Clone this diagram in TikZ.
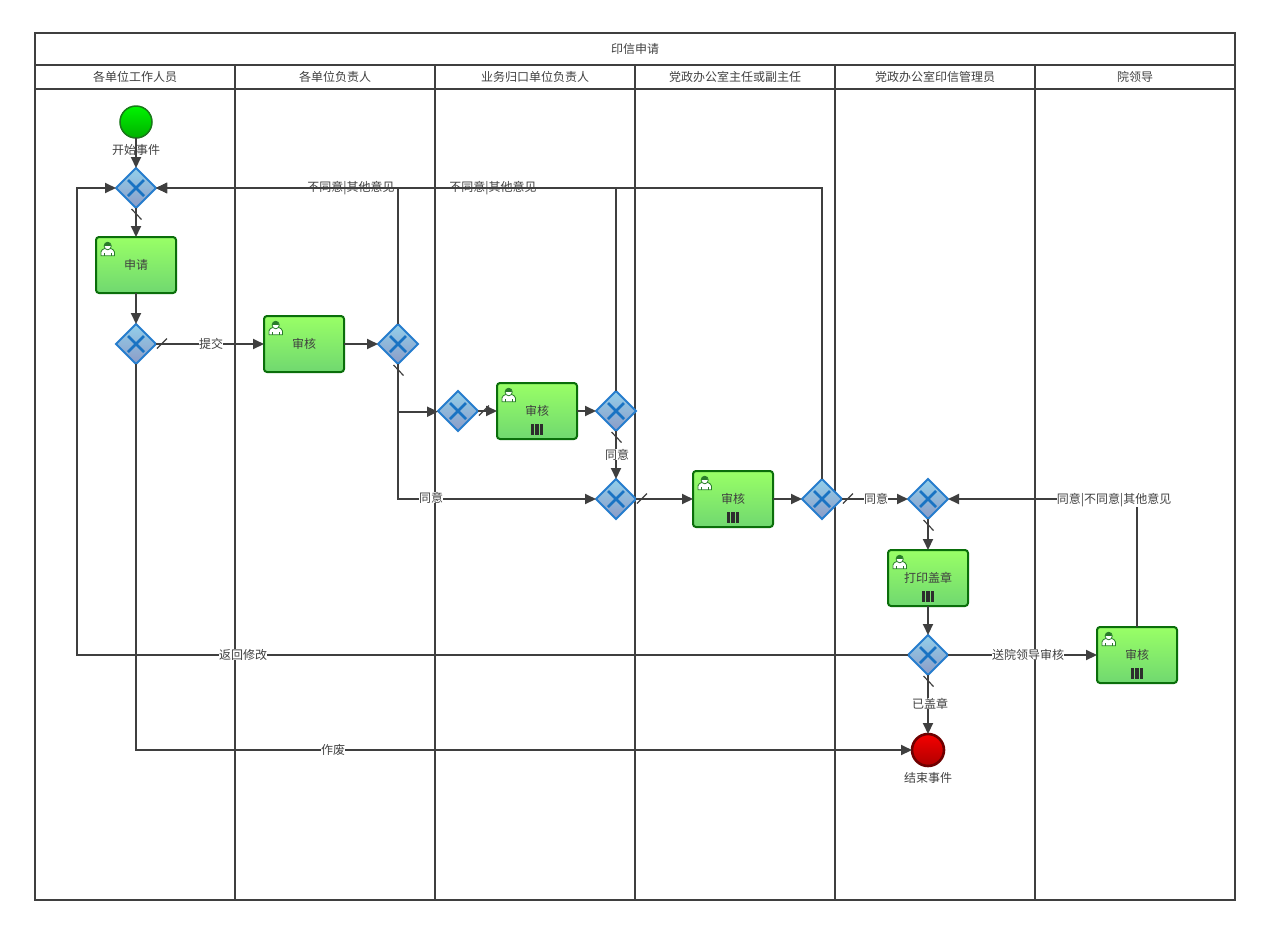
\documentclass[tikz,border=0pt]{standalone}
\usepackage{fontspec}
\setmainfont{Noto Sans CJK SC}
\usetikzlibrary{arrows.meta,shapes.geometric,calc}
\definecolor{ln}{HTML}{3F3F3F}
\definecolor{txt}{HTML}{404040}
\definecolor{gateb}{RGB}{38,125,205}
\definecolor{gatet}{RGB}{147,208,235}
\definecolor{gatel}{RGB}{140,155,198}
\definecolor{gatex}{RGB}{25,115,195}
\definecolor{taskb}{RGB}{10,110,10}
\definecolor{taskt}{RGB}{153,255,102}
\definecolor{taskl}{RGB}{112,216,112}
\definecolor{startb}{RGB}{25,120,25}
\definecolor{startt}{RGB}{0,245,0}
\definecolor{startl}{RGB}{0,175,0}
\definecolor{endb}{RGB}{110,0,0}
\definecolor{endt}{RGB}{245,0,0}
\definecolor{endl}{RGB}{175,0,0}
\definecolor{userc}{RGB}{40,125,40}
\definecolor{barc}{RGB}{45,45,45}
\tikzset{
  x=1pt,y=-1pt,
  every node/.style={inner sep=0pt,outer sep=0pt,font=\fontsize{12}{14}\selectfont,text=txt},
  pool/.style={draw=ln,line width=2pt},
  flow/.style={draw=ln,line width=2pt,-{Triangle[length=11pt,width=10pt]}},
  tick/.style={draw=ln,line width=1.2pt},
  gate/.style={diamond,minimum width=40pt,minimum height=40pt,aspect=1,draw=gateb,line width=2pt,
    top color=gatet,bottom color=gatel},
  xmark/.style={draw=gatex,line width=2.6pt},
  task/.style={rectangle,rounded corners=3pt,minimum width=80pt,minimum height=56pt,draw=taskb,line width=2pt,
    top color=taskt,bottom color=taskl},
  startev/.style={circle,minimum size=32pt,draw=startb,line width=1.5pt,
    top color=startt,bottom color=startl},
  endev/.style={circle,minimum size=32pt,draw=endb,line width=2.6pt,
    top color=endt,bottom color=endl},
  lbl/.style={fill=white,inner xsep=0pt,inner ysep=0pt},
  bar/.style={fill=barc,draw=none},
}
\newcommand{\usericon}[1]{%
  \begin{scope}[shift={($(#1.north west)+(11.7,12)$)}]
    \fill[white,draw=userc,line width=.8pt]
      (-6.8,6.8) -- (-6.8,3) .. controls (-6.8,0.8) and (-4.5,0.4) .. (-2.8,-0.6) -- (2.8,-0.6) .. controls (4.5,0.4) and (6.8,0.8) .. (6.8,3) -- (6.8,6.8) -- cycle;
    \fill[white,draw=userc,line width=.8pt] (0,-3) ellipse[x radius=3.6,y radius=3.8];
    \fill[userc] (-3.6,-3.4) .. controls (-3.6,-8) and (3.6,-8) .. (3.6,-3.4) -- cycle;
    \draw[userc,line width=.6pt] (-3.8,6.8) -- (-3.8,3.5) (3.8,6.8) -- (3.8,3.5);
  \end{scope}}
\newcommand{\bars}[1]{%
  \fill[bar] ($(#1.south)+(-6.3,-15)$) rectangle ++(3.4,11);
  \fill[bar] ($(#1.south)+(-1.7,-15)$) rectangle ++(3.4,11);
  \fill[bar] ($(#1.south)+(2.9,-15)$) rectangle ++(3.4,11);}
\newcommand{\gateX}[1]{%
  \draw[xmark] ($(#1)+(-8,-8)$) -- ($(#1)+(8,8)$);
  \draw[xmark] ($(#1)+(-8,8)$) -- ($(#1)+(8,-8)$);}
\begin{document}
\begin{tikzpicture}
\useasboundingbox (0,0) rectangle (1267,930);
% pool
\draw[pool] (35,33) rectangle (1235,900);
\draw[pool] (35,65) -- (1235,65);
\draw[pool] (35,89) -- (1235,89);
\foreach \xx in {235,435,635,835,1035}{\draw[pool] (\xx,65) -- (\xx,900);}
\node (title) at (635,49) {印信申请};
\node (l1) at (135,76.5) {各单位工作人员};
\node (l2) at (335,76.5) {各单位负责人};
\node (l3) at (535,76.5) {业务归口单位负责人};
\node (l4) at (735,76.5) {党政办公室主任或副主任};
\node (l5) at (935,76.5) {党政办公室印信管理员};
\node (l6) at (1135,76.5) {院领导};
% text under the flows
\node (ls) at (136,150) {开始事件};
\node (le) at (928,778) {结束事件};
\node (ln1) at (351,188.5) {不同意|其他意见};
\node (ln2) at (493,188.5) {不同意|其他意见};
% elements
\node[startev] (start) at (136,122) {};
\node[endev] (end) at (928,750) {};
\node[gate] (g1) at (136,188) {};
\node[gate] (g2) at (136,344) {};
\node[gate] (g3) at (398,344) {};
\node[gate] (g4) at (458,411) {};
\node[gate] (g5) at (616,411) {};
\node[gate] (g6) at (616,499) {};
\node[gate] (g7) at (822,499) {};
\node[gate] (g8) at (928,499) {};
\node[gate] (g9) at (928,655) {};
\foreach \gg in {g1,g2,g3,g4,g5,g6,g7,g8,g9}{\gateX{\gg}}
\node[task] (t1) at (136,265) {申请};
\node[task] (t2) at (304,344) {审核};
\node[task] (t3) at (537,411) {审核};
\node[task] (t4) at (733,499) {审核};
\node[task] (t5) at (928,578) {打印盖章};
\node[task] (t6) at (1137,655) {审核};
\foreach \tt in {t1,t2,t3,t4,t5,t6}{\usericon{\tt}}
\foreach \tt in {t3,t4,t5,t6}{\bars{\tt}}
% connectors
\draw[flow] (start) -- (g1);
\draw[flow] (g1) -- (t1);
\draw[flow] (t1) -- (g2);
\draw[flow] (g2) -- (t2);
\draw[flow] (t2) -- (g3);
\draw[flow] (g3.north) |- (g1.east);
\draw[flow] (g5.north) |- (g1.east);
\draw[flow] (g7.north) |- (g1.east);
\draw[flow] (g3.south) |- ($(g4.west)+(0,0.7)$);
\draw[flow] (g3.south) |- (g6.west);
\draw[flow] (g4) -- (t3);
\draw[flow] (t3) -- (g5);
\draw[flow] (g5) -- (g6);
\draw[flow] (g6) -- (t4);
\draw[flow] (t4) -- (g7);
\draw[flow] (g7) -- (g8);
\draw[flow] (g8) -- (t5);
\draw[flow] (t5) -- (g9);
\draw[flow] (g9) -- (t6);
\draw[flow] (g9) -- (end);
\draw[flow] (t6.north) |- (g8.east);
\coordinate (backl) at (77,655);
\draw[flow] (g9.west) -- (backl) |- (g1.west);
\draw[flow] (g2.south) |- (end.west);
% default-flow ticks
\draw[tick] ($(g1.south)+(-4.5,1)$) -- ++(10,10.5);
\draw[tick] ($(g2.east)+(1,4.5)$) -- ++(10,-10);
\draw[tick] ($(g3.south)+(-4.5,1)$) -- ++(10,10.5);
\draw[tick] ($(g4.east)+(1,4.5)$) -- ++(10,-10);
\draw[tick] ($(g5.south)+(-4.5,1)$) -- ++(10,10.5);
\draw[tick] ($(g6.east)+(1,4.5)$) -- ++(10,-10);
\draw[tick] ($(g7.east)+(1,4.5)$) -- ++(10,-10);
\draw[tick] ($(g8.south)+(-4.5,1)$) -- ++(10,10.5);
\draw[tick] ($(g9.south)+(-4.5,1)$) -- ++(10,10.5);
% labels
\node[lbl] (a1) at (211,343.5) {提交};
\node[lbl] (a2) at (431,497.5) {同意};
\node[lbl] (a3) at (617,454.5) {同意};
\node[lbl] (a4) at (876,498.5) {同意};
\node[lbl] (a5) at (1114,500) {同意|不同意|其他意见};
\node[lbl] (a6) at (1028,654.5) {送院领导审核};
\node[lbl] (a7) at (243,654.5) {返回修改};
\node[lbl] (a8) at (333,749.5) {作废};
\node[lbl] (a9) at (930,703.5) {已盖章};
\end{tikzpicture}
\end{document}
